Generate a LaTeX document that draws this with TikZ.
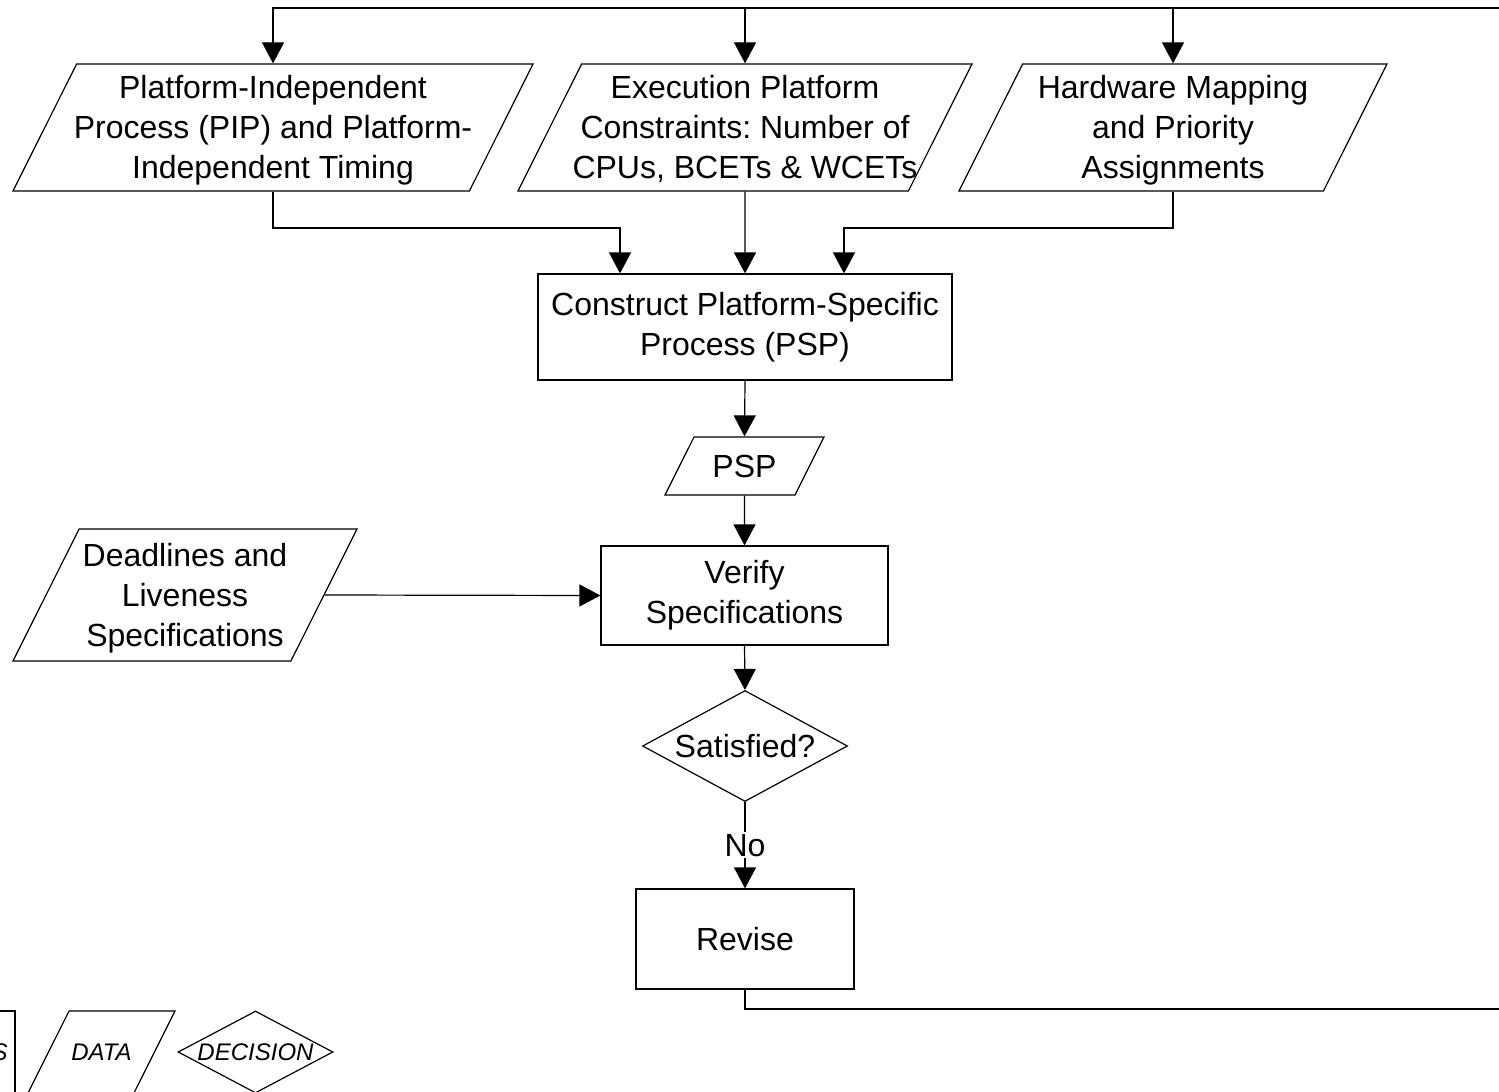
\documentclass[tikz,border=0pt]{standalone}
\usepackage{fontspec}
\setmainfont{Liberation Sans}
\usetikzlibrary{shapes.geometric,arrows.meta}
\frenchspacing

\begin{document}
\begin{tikzpicture}[x=0.5pt, y=-0.5pt, line width=0.6pt,
  box/.style={draw, rectangle, inner sep=0pt, align=center, font=\fontsize{16}{20}\selectfont},
  data/.style={draw, trapezium, trapezium left angle=63.4, trapezium right angle=116.6, trapezium stretches body, inner xsep=-7pt, inner ysep=0pt, align=center, font=\fontsize{16}{20}\selectfont},
  decision/.style={draw, diamond, inner sep=0pt, align=center, font=\fontsize{16}{20}\selectfont},
  legend/.style={font=\fontsize{12}{14}\selectfont\itshape},
  arrow/.style={-{Triangle[width=11pt,length=10.5pt]}}]
\useasboundingbox (0,0) rectangle (1499,1092);
\clip (0,0) rectangle (1499,1092);
% inputs
\node[data, minimum width=260pt, text height=57.45pt, text depth=6.05pt] (pip) at (273,127.5) {Platform-Independent\\Process (PIP) and Platform-\\Independent Timing};
\node[data, minimum width=227pt, text height=57.45pt, text depth=6.05pt] (epc) at (745,127.5) {Execution Platform\\Constraints: Number of\\CPUs, BCETs \& WCETs};
\node[data, minimum width=214pt, text height=57.45pt, text depth=6.05pt] (hw) at (1173,127.5) {Hardware Mapping\\and Priority\\Assignments};
% main flow
\node[box, minimum width=207pt, minimum height=53pt] (construct) at (745,327) {Construct Platform-Specific\\Process (PSP)};
\node[data, minimum width=79.5pt, text height=20.2pt, text depth=8.8pt] (psp) at (744.5,466) {PSP};
\node[data, minimum width=172pt, text height=58.7pt, text depth=7.3pt] (deadlines) at (185,595) {Deadlines and\\Liveness\\Specifications};
\node[box, minimum width=143.5pt, minimum height=49.5pt] (verify) at (744.5,595.5) {Verify\\Specifications};
\node[decision, minimum width=102.5pt, minimum height=55.5pt, shape aspect=1.85] (satisfied) at (745,746) {Satisfied?};
\node[box, minimum width=109pt, minimum height=50pt] (revise) at (745,939) {Revise};
% legend
\node[box, legend, minimum width=66pt, minimum height=41pt] (legproc) at (-51,1052) {PROCESS};
\node[data, legend, minimum width=73.5pt, text height=24.8pt, text depth=16.2pt] (legdata) at (101.5,1052) {DATA};
\node[decision, legend, minimum width=77.5pt, minimum height=41pt, shape aspect=1.9] (legdec) at (255.5,1052) {DECISION};
% connectors
\coordinate (inL) at (620,228);
\coordinate (inR) at (844,228);
\coordinate (loopBR) at (1530,1009);
\coordinate (loopTR) at (1530,8);
\draw[arrow] (pip.south) |- (inL) -- (inL |- construct.north);
\draw[arrow] (epc.south) -- (construct.north);
\draw[arrow] (hw.south) |- (inR) -- (inR |- construct.north);
\draw[arrow] (construct.south) -- (psp.north);
\draw[arrow] (psp.south) -- (verify.north);
\draw[arrow] (deadlines.east) -- (verify.west);
\draw[arrow] (verify.south) -- (satisfied.north);
\draw[arrow] (satisfied.south) -- (revise.north) node[midway, fill=white, inner sep=1pt, font=\fontsize{16}{20}\selectfont] {No};
\draw[arrow] (revise.south) |- (loopBR) -- (loopTR) -| (pip.north);
\draw[arrow] (epc.north |- loopTR) -- (epc.north);
\draw[arrow] (hw.north |- loopTR) -- (hw.north);
\end{tikzpicture}
\end{document}
